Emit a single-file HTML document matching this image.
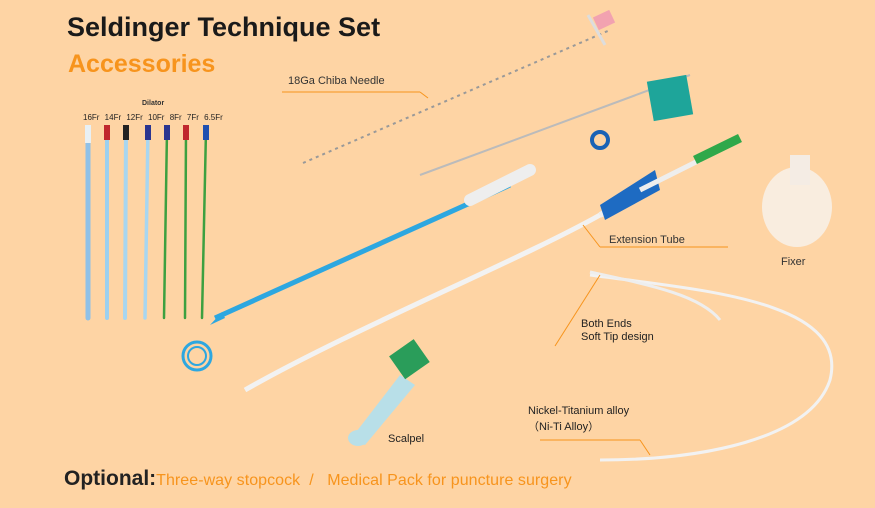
<!DOCTYPE html>
<html><head><style>
body{margin:0;width:875px;height:508px;background:#fed4a4;overflow:hidden;position:relative;font-family:"Liberation Sans",sans-serif}
.t{position:absolute;white-space:nowrap}
</style></head><body>
<div class="t" style="left:67px;top:12px;font-size:27px;font-weight:bold;color:#1a1a1a">Seldinger Technique Set</div>
<div class="t" style="left:68px;top:50px;font-size:25px;font-weight:bold;color:#f7941d">Accessories</div>
<div class="t" style="left:142px;top:100px;font-size:7px;font-weight:bold;color:#333">Dilator</div>
<div class="t" style="left:83px;top:113px;font-size:8px;color:#222;word-spacing:3px">16Fr 14Fr 12Fr 10Fr 8Fr 7Fr 6.5Fr</div>
<div class="t" style="left:288px;top:75px;font-size:11px;color:#333">18Ga Chiba Needle</div>
<div class="t" style="left:609px;top:234px;font-size:11px;color:#333">Extension Tube</div>
<div class="t" style="left:781px;top:256px;font-size:11px;color:#333">Fixer</div>
<div class="t" style="left:581px;top:318px;font-size:11px;color:#222;line-height:13px">Both Ends<br>Soft Tip design</div>
<div class="t" style="left:528px;top:403px;font-size:11px;color:#222;line-height:16px">Nickel-Titanium alloy<br>（Ni-Ti Alloy）</div>
<div class="t" style="left:388px;top:433px;font-size:11px;color:#222">Scalpel</div>
<div class="t" style="left:64px;top:467px;font-size:21px;font-weight:bold;color:#222">Optional:<span style="font-size:16px;font-weight:normal;color:#f7941d;letter-spacing:0.05px">Three-way stopcock &nbsp;/ &nbsp; Medical Pack for puncture surgery</span></div>
<svg width="875" height="508" style="position:absolute;left:0;top:0">
<g stroke-linecap="round">
<line x1="88" y1="130" x2="88" y2="318" stroke="#8fc1e8" stroke-width="5"/><rect x="85" y="125" width="6" height="18" fill="#e8f0f4"/>
<line x1="107" y1="130" x2="107" y2="318" stroke="#9cd0ef" stroke-width="4"/><rect x="104" y="125" width="6" height="15" fill="#c0272d"/>
<line x1="126" y1="130" x2="125" y2="318" stroke="#a8d6f0" stroke-width="4"/><rect x="123" y="125" width="6" height="15" fill="#222"/>
<line x1="148" y1="130" x2="145" y2="318" stroke="#a8d6f0" stroke-width="3.5"/><rect x="145" y="125" width="6" height="15" fill="#2b3590"/>
<line x1="167" y1="130" x2="164" y2="318" stroke="#3ca040" stroke-width="2.5"/><rect x="164" y="125" width="6" height="15" fill="#2b3590"/>
<line x1="186" y1="130" x2="185" y2="318" stroke="#3ca040" stroke-width="2.5"/><rect x="183" y="125" width="6" height="15" fill="#c0272d"/>
<line x1="206" y1="130" x2="202" y2="318" stroke="#3ca040" stroke-width="2.5"/><rect x="203" y="125" width="6" height="15" fill="#2050b0"/>
</g>
<line x1="282" y1="92" x2="420" y2="92" stroke="#f7941d" stroke-width="1"/>
<line x1="420" y1="92" x2="428" y2="98" stroke="#f7941d" stroke-width="1"/>
<line x1="303" y1="163" x2="610" y2="30" stroke="#999" stroke-width="2" stroke-dasharray="3 4"/>
<rect x="595" y="13" width="18" height="14" fill="#f2a2b0" transform="rotate(-25 604 20)"/>
<line x1="588" y1="15" x2="605" y2="45" stroke="#ddd" stroke-width="3"/>
<line x1="420" y1="175" x2="690" y2="75" stroke="#bbb" stroke-width="2"/>
<rect x="650" y="78" width="40" height="40" fill="#1ea59a" transform="rotate(-10 670 98)"/>
<path d="M215 318 L510 185" stroke="#2da7e0" stroke-width="5"/>
<path d="M210 325 L225 318 L222 312 Z" fill="#2da7e0"/>
<circle cx="197" cy="356" r="14" fill="none" stroke="#2da7e0" stroke-width="3"/>
<circle cx="197" cy="356" r="9" fill="none" stroke="#2da7e0" stroke-width="2"/>
<path d="M470 200 L530 170" stroke="#eee" stroke-width="12" stroke-linecap="round"/>
<circle cx="600" cy="140" r="8" fill="none" stroke="#1a62b5" stroke-width="4"/>
<path d="M245 390 C350 330 520 260 600 215" stroke="#f2f2f2" stroke-width="5" fill="none"/>
<path d="M600 215 L650 190" stroke="#eee" stroke-width="6"/>
<path d="M600 205 L655 170 L660 190 L605 220 Z" fill="#1e6bc2"/>
<path d="M640 190 L700 160" stroke="#eee" stroke-width="5"/>
<path d="M695 160 L740 138" stroke="#2fa84a" stroke-width="9"/>
<line x1="583" y1="225" x2="600" y2="247" stroke="#f7941d"/>
<line x1="600" y1="247" x2="728" y2="247" stroke="#f7941d"/>
<ellipse cx="797" cy="207" rx="35" ry="40" fill="#f8efe5" opacity="0.9"/>
<rect x="790" y="155" width="20" height="30" fill="#f4ece4"/>
<path d="M590 275 C700 290 850 300 830 380 C810 440 700 460 600 460" stroke="#f2f2f2" stroke-width="3" fill="none"/>
<path d="M590 272 C650 285 700 295 720 320" stroke="#eee" stroke-width="3" fill="none"/>
<line x1="600" y1="275" x2="555" y2="346" stroke="#f7941d"/>
<line x1="540" y1="440" x2="640" y2="440" stroke="#f7941d"/>
<line x1="640" y1="440" x2="650" y2="455" stroke="#f7941d"/>
<path d="M350 440 L400 375 L415 385 L365 445 Z" fill="#b8dfe8"/>
<rect x="395" y="345" width="30" height="28" fill="#2a9d5a" transform="rotate(-35 410 360)"/>
<ellipse cx="358" cy="438" rx="10" ry="8" fill="#b8dfe8"/>
</svg>
</body></html>
